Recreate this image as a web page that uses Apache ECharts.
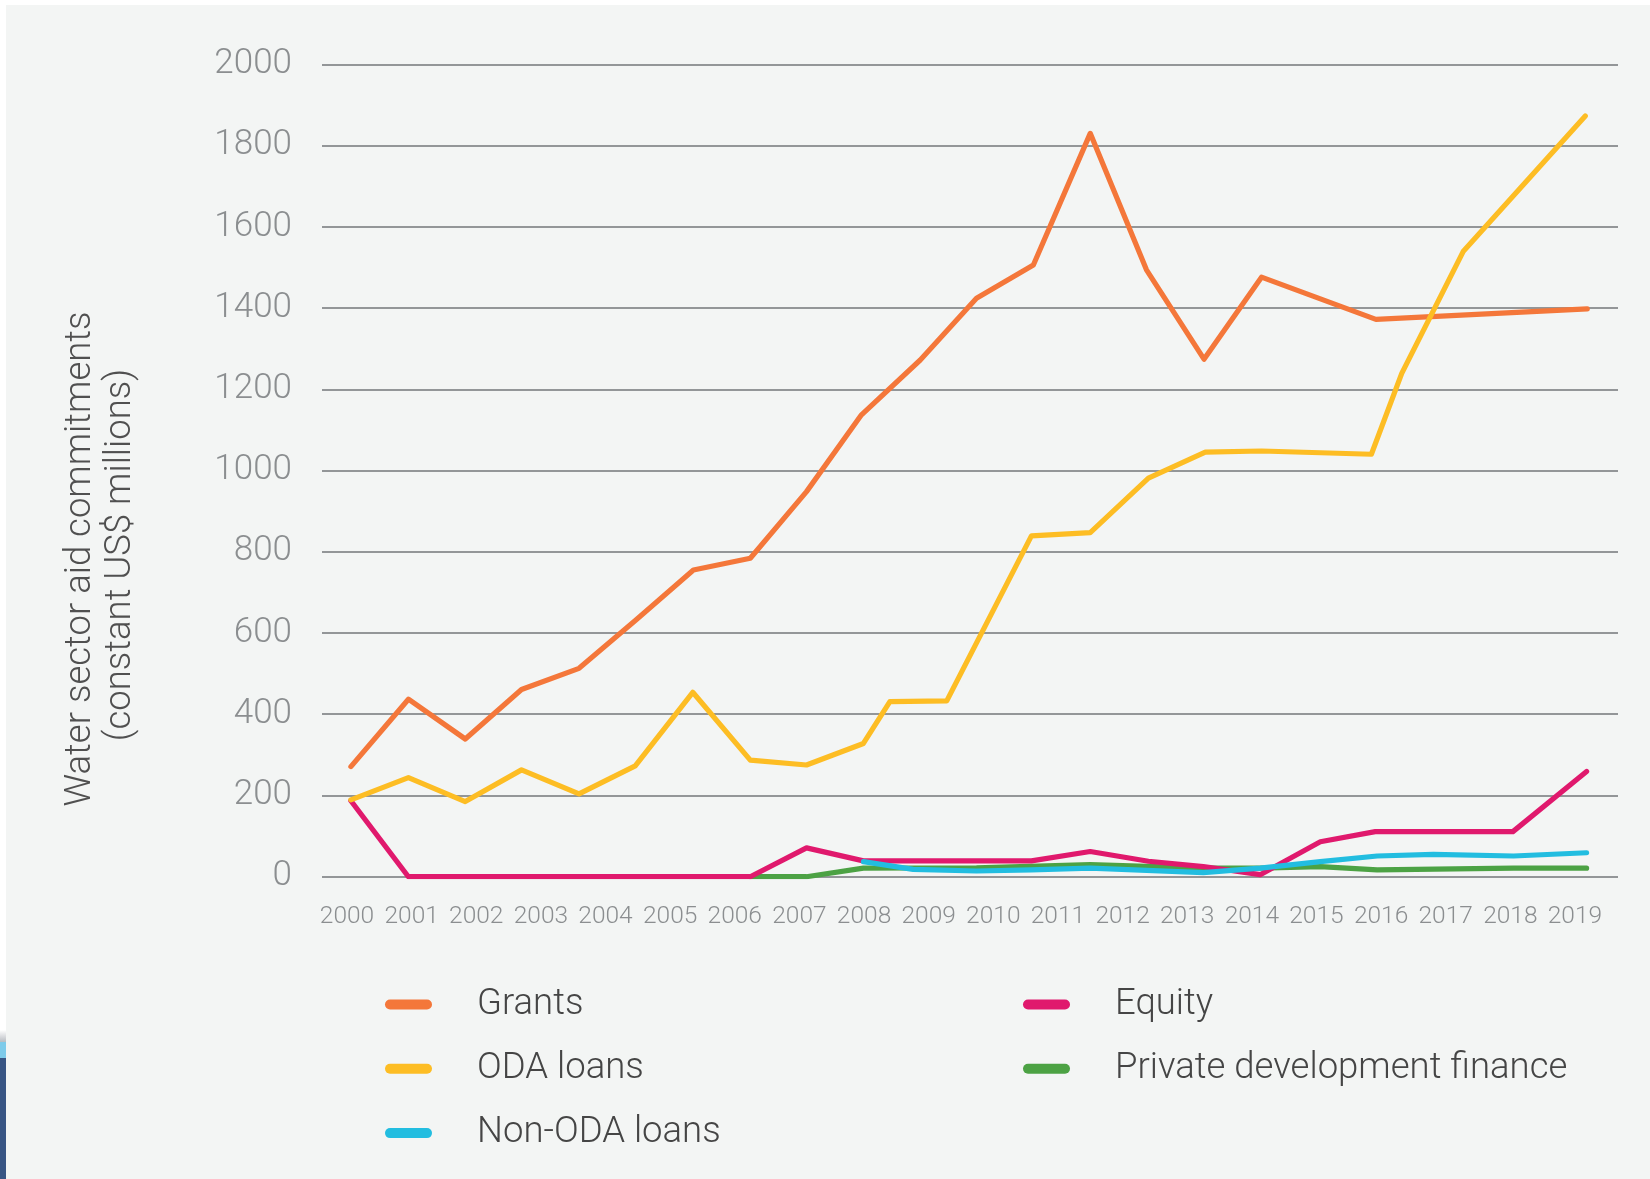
<!DOCTYPE html>
<html>
<head>
<meta charset="utf-8">
<script src="https://cdn.jsdelivr.net/npm/echarts@6/dist/echarts.min.js"></script>
<style>
html,body{margin:0;padding:0;background:#ffffff;}
#chart{width:1650px;height:1179px;}
</style>
</head>
<body>
<div id="chart"></div>
<script>
// Tick labels
const yearTicks = [2000,2001,2002,2003,2004,2005,2006,2007,2008,2009,2010,2011,2012,2013,2014,2015,2016,2017,2018,2019];

// Series: x positions (fractional years as plotted) and values (US$ millions)
const grantsX = [2000.06,2000.95,2001.83,2002.70,2003.59,2004.47,2005.36,2006.24,2007.11,2007.96,2008.87,2009.74,2010.62,2011.50,2012.37,2013.26,2014.15,2015.92,2019.19];
const grantsY = [271,437,339,461,513,632,755,784,948,1137,1272,1424,1506,1830,1494,1274,1476,1372,1398];

const odaX = [2000.06,2000.95,2001.83,2002.70,2003.59,2004.46,2005.35,2006.24,2007.11,2007.99,2008.40,2009.28,2010.59,2011.50,2012.40,2013.28,2014.15,2015.85,2016.32,2017.27,2019.16];
const odaY = [189,244,185,263,204,273,454,287,275,328,431,433,839,847,981,1045,1048,1040,1239,1539,1873];

const nonOdaX = [2007.99,2008.76,2009.74,2010.59,2011.50,2013.25,2014.13,2015.06,2015.94,2016.81,2018.05,2019.18];
const nonOdaY = [37,18,14,17,21,10,21,37,51,55,51,59];

const equityX = [2000.06,2000.95,2006.24,2007.11,2007.99,2010.59,2011.50,2012.40,2013.25,2014.13,2015.06,2015.91,2018.04,2019.18];
const equityY = [187,0,0,71,39,39,62,38,25,5,86,111,111,259];

const pdfX = [2006.24,2007.11,2007.99,2009.74,2011.50,2013.25,2014.13,2015.06,2015.94,2018.05,2019.18];
const pdfY = [0,0,21,22,30,21,21,25,17,21,21];

const names = ['Grants','ODA loans','Non-ODA loans','Equity','Private development finance'];

function pairs(xs, ys){ return xs.map((x,i)=>[x, ys[i]]); }

const chart = echarts.init(document.getElementById('chart'), null, {renderer:'canvas'});
const font = 'Roboto';
const pill = 'path://M5,0 H42 A5,5 0 0 1 42,10 H5 A5,5 0 0 1 5,0 Z';

function lineSeries(name, color, data){
  return {
    name: name, type: 'line', data: data,
    symbol: 'none', showSymbol: false,
    lineStyle: {color: color, width: 5.2, join: 'round', cap: 'round'},
    itemStyle: {color: color},
    animation: false
  };
}

const legendText = {fontFamily: font, fontWeight: 300, fontSize: 36.5, color: '#454545', lineHeight: 40, padding: [0,0,0,40]};

chart.setOption({
  backgroundColor: '#f3f5f4',
  animation: false,
  grid: {left: 322, right: 32, top: 64.3, bottom: 302.3},
  xAxis: {
    type: 'value', min: 1999.613, max: 2019.666,
    axisLine: {show: false}, axisTick: {show: false}, splitLine: {show: false},
    axisLabel: {customValues: yearTicks, formatter: v => String(Math.round(v)),
      color: '#8b8e90', fontFamily: font, fontWeight: 300, fontSize: 24.5, margin: 28}
  },
  yAxis: {
    type: 'value', min: 0, max: 2000, interval: 200,
    axisLine: {show: false}, axisTick: {show: false},
    splitLine: {lineStyle: {color: '#939698', width: 2}},
    axisLabel: {formatter: v => String(v), color: '#8b8e90', fontFamily: font, fontWeight: 300,
      fontSize: 35, margin: 30, padding: [12,0,0,0]}
  },
  legend: [
    {data: [names[0], names[1], names[2]], orient: 'vertical', left: 385, top: 984.5, padding: 0,
      icon: pill, itemWidth: 47, itemHeight: 10, itemGap: 24.3, textStyle: legendText, selectedMode: false},
    {data: [names[3], names[4]], orient: 'vertical', left: 1023, top: 984.5, padding: 0,
      icon: pill, itemWidth: 47, itemHeight: 10, itemGap: 24.3, textStyle: legendText, selectedMode: false}
  ],
  graphic: [
    {type: 'rect', left: 0, top: 0, shape: {width: 1650, height: 5}, style: {fill: '#ffffff'}, silent: true},
    {type: 'rect', left: 0, top: 0, shape: {width: 6, height: 1030}, style: {fill: '#ffffff'}, silent: true},
    {type: 'rect', left: 0, top: 1030, shape: {width: 6, height: 12},
      style: {fill: new echarts.graphic.LinearGradient(0,0,0,1,[{offset:0,color:'#ffffff'},{offset:1,color:'#b8bcc2'}])}, silent: true},
    {type: 'rect', left: 0, top: 1042, shape: {width: 6, height: 16}, style: {fill: '#7ecbea'}, silent: true},
    {type: 'rect', left: 0, top: 1058, shape: {width: 6, height: 121}, style: {fill: '#385584'}, silent: true},
    {type: 'text', x: 81, y: 559, rotation: Math.PI/2,
      style: {text: 'Water sector aid commitments', fontFamily: font, fontWeight: 300, fontSize: 36.5,
        fill: '#505050', align: 'center', verticalAlign: 'middle'}, silent: true},
    {type: 'text', x: 121, y: 555, rotation: Math.PI/2,
      style: {text: '(constant US$ millions)', fontFamily: font, fontWeight: 300, fontSize: 36.5,
        fill: '#505050', align: 'center', verticalAlign: 'middle'}, silent: true}
  ],
  series: [
    lineSeries(names[4], '#4ca244', pairs(pdfX, pdfY)),
    lineSeries(names[3], '#e0196d', pairs(equityX, equityY)),
    lineSeries(names[2], '#22bde0', pairs(nonOdaX, nonOdaY)),
    lineSeries(names[0], '#f4773a', pairs(grantsX, grantsY)),
    lineSeries(names[1], '#fdbd24', pairs(odaX, odaY))
  ]
});
</script>
</body>
</html>
